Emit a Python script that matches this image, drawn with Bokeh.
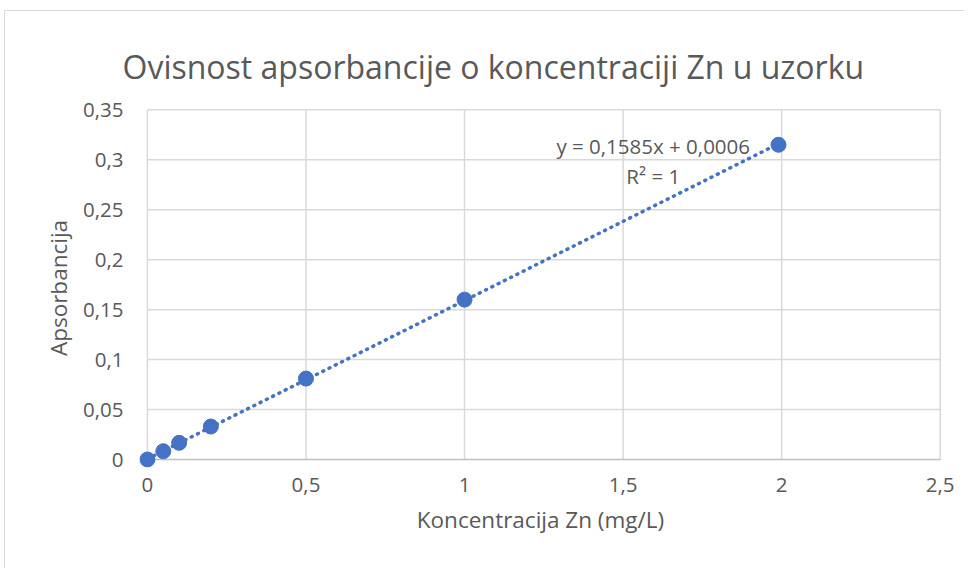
from bokeh.plotting import figure
from bokeh.models import Range1d, FixedTicker, Label
from bokeh.embed import file_html
from bokeh.resources import INLINE

# Data
konc = [0, 0.05, 0.1, 0.2, 0.5, 1.0, 1.99]
aps = [0.0, 0.0083, 0.0167, 0.033, 0.081, 0.160, 0.315]
slope = 0.1585
intercept = 0.0006
x_ticks = [0, 0.5, 1, 1.5, 2, 2.5]
x_tick_labels = ["0", "0,5", "1", "1,5", "2", "2,5"]
y_ticks = [0, 0.05, 0.1, 0.15, 0.2, 0.25, 0.3, 0.35]
y_tick_labels = ["0", "0,05", "0,1", "0,15", "0,2", "0,25", "0,3", "0,35"]
title_text = "Ovisnost apsorbancije o koncentraciji Zn u uzorku"
x_title = "Koncentracija Zn (mg/L)"
y_title = "Apsorbancija"
eq_text = "y = 0,1585x + 0,0006"
r2_text = "R² = 1"

FONT = "Open Sans"
GREY = "#595959"
BLUE = "#4472C4"

x0, x1 = x_ticks[0], x_ticks[-1]
y0, y1 = y_ticks[0], y_ticks[-1]

p = figure(width=960, height=558, output_backend="svg", toolbar_location=None,
           x_range=Range1d(-0.025, 2.504), y_range=Range1d(-0.008, 0.3513),
           min_border_left=134, min_border_right=24, min_border_top=97, min_border_bottom=102)
p.outline_line_color = None
p.background_fill_color = "white"
p.border_fill_color = "white"
p.grid.visible = False

p.title.text = title_text
p.title.align = "left"
p.title.vertical_align = "top"
p.title.offset = -17
p.title.standoff = 38
p.title.text_font = FONT
p.title.text_font_size = "32px"
p.title.text_font_style = "normal"
p.title.text_color = GREY

p.xaxis.ticker = FixedTicker(ticks=x_ticks)
p.yaxis.ticker = FixedTicker(ticks=y_ticks)
p.xaxis.major_label_overrides = {t: l for t, l in zip(x_ticks, x_tick_labels)}
p.yaxis.major_label_overrides = {t: l for t, l in zip(y_ticks, y_tick_labels)}

for ax in (p.xaxis, p.yaxis):
    ax.axis_line_color = None
    ax.major_tick_line_color = None
    ax.minor_tick_line_color = None
    ax.major_tick_out = 0
    ax.major_tick_in = 0
    ax.major_label_text_font = FONT
    ax.major_label_text_font_size = "20.5px"
    ax.major_label_text_color = GREY
    ax.axis_label_text_font = FONT
    ax.axis_label_text_font_size = "22.5px"
    ax.axis_label_text_color = GREY
    ax.axis_label_text_font_style = "normal"

p.xaxis.major_label_standoff = 10
p.yaxis.major_label_standoff = 16
p.xaxis.axis_label = x_title
p.yaxis.axis_label = y_title
p.xaxis.axis_label_standoff = 9
p.yaxis.axis_label_standoff = 6

# gridlines at tick positions
vx = x_ticks
p.segment(x0=vx, y0=[y0] * len(vx), x1=vx, y1=[y1] * len(vx),
          line_color="#d9d9d9", line_width=1.5)
hy = y_ticks[1:]
p.segment(x0=[x0] * len(hy), y0=hy, x1=[x1] * len(hy), y1=hy,
          line_color="#d9d9d9", line_width=1.5)
# x axis line
p.segment(x0=[x0], y0=[y0], x1=[x1], y1=[y0], line_color="#bfbfbf", line_width=1.5)

# trendline from equation over data range
tx = [min(konc), max(konc)]
ty = [slope * v + intercept for v in tx]
p.line(tx, ty, line_color=BLUE, line_width=3.5, line_dash="1 6", line_cap="round")

p.scatter(konc, aps, size=15, fill_color=BLUE, line_color=BLUE, marker="circle")

p.add_layout(Label(x=1.595, y=0.314, text=eq_text, text_align="center", text_baseline="middle",
                   text_font=FONT, text_font_size="20.5px", text_color=GREY))
p.add_layout(Label(x=1.595, y=0.284, text=r2_text, text_align="center", text_baseline="middle",
                   text_font=FONT, text_font_size="20.5px", text_color=GREY))

p.styles = {"margin-left": "4px", "margin-top": "10px",
            "border-left": "1px solid #d9d9d9", "border-top": "1px solid #d9d9d9"}

open("out.html", "w").write(file_html(p, INLINE))
